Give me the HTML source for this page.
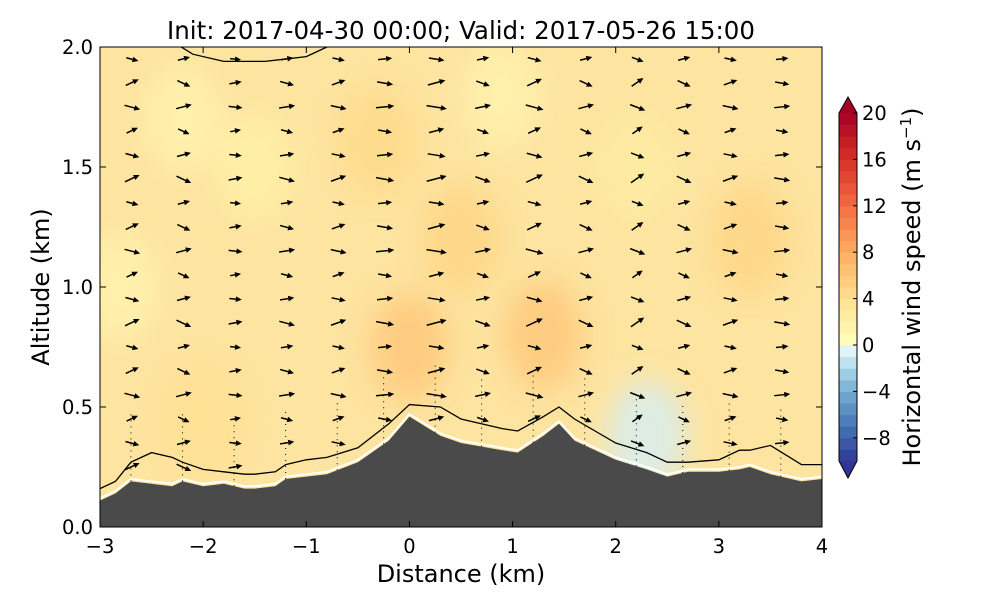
<!DOCTYPE html>
<html><head><meta charset="utf-8"><style>
body{margin:0;background:#fff;}
svg text{font-family:"DejaVu Sans","Liberation Sans",sans-serif;fill:#000;}
</style></head><body>
<svg id="chart" width="1000" height="600" xmlns="http://www.w3.org/2000/svg">
<defs>
<clipPath id="plotclip"><rect x="100" y="47" width="722" height="480"/></clipPath>
<filter id="blur" x="-50%" y="-50%" width="200%" height="200%"><feGaussianBlur stdDeviation="14"/></filter>
</defs>
<text x="461" y="39" font-size="24.5" text-anchor="middle">Init: 2017-04-30 00:00; Valid: 2017-05-26 15:00</text>
<g id="plot" clip-path="url(#plotclip)">
<rect x="100" y="47" width="722" height="480" fill="#fde4a0"/>
<g id="field" filter="url(#blur)"></g>
<g id="arrows"></g>
<path id="contour" fill="none" stroke="#000" stroke-width="1.3"/>
<path id="contourTop" fill="none" stroke="#000" stroke-width="1.3"/>
<path id="whiteline" fill="none" stroke="#fff" stroke-width="2"/>
<path id="terrain" fill="#4a4a4a"/>
</g>
<rect x="100" y="47" width="722" height="480" fill="none" stroke="#000" stroke-width="1"/>
<g id="xticks"></g><g id="yticks"></g>
<text x="461" y="582" font-size="24" text-anchor="middle">Distance (km)</text>
<text transform="translate(49,287) rotate(-90)" font-size="24" text-anchor="middle">Altitude (km)</text>
<g id="colorbar"></g>
<text transform="translate(920,287) rotate(-90)" font-size="24" text-anchor="middle">Horizontal wind speed (m s<tspan font-size="15" dy="-9">−1</tspan><tspan dy="9">)</tspan></text>
</svg>
<script>
const xTicks=[-3,-2,-1,0,1,2,3,4];
const yTicks=[0.0,0.5,1.0,1.5,2.0];
const cbTicks=[20,16,12,8,4,0,-4,-8];
const terrainX=[-3,-2.85,-2.7,-2.5,-2.3,-2.2,-2.0,-1.8,-1.6,-1.5,-1.3,-1.2,-1.0,-0.8,-0.5,-0.2,0.0,0.3,0.5,0.9,1.05,1.3,1.45,1.6,2.0,2.3,2.5,2.7,3.0,3.2,3.3,3.5,3.8,4.0];
const terrainZ=[0.11,0.14,0.19,0.18,0.17,0.19,0.17,0.18,0.16,0.16,0.17,0.20,0.21,0.22,0.27,0.36,0.46,0.38,0.35,0.32,0.31,0.38,0.43,0.36,0.28,0.24,0.21,0.23,0.23,0.24,0.25,0.22,0.19,0.20];
const contourZ=[0.16,0.19,0.27,0.31,0.29,0.27,0.24,0.23,0.22,0.22,0.23,0.26,0.28,0.29,0.33,0.43,0.51,0.50,0.45,0.41,0.40,0.46,0.50,0.45,0.35,0.31,0.27,0.27,0.28,0.32,0.32,0.34,0.26,0.26];
const topX=[-2.25,-2.1,-1.8,-1.4,-1.0,-0.85,-0.7];
const topZ=[2.01,1.97,1.94,1.94,1.96,1.99,2.02];
const colX=[-2.7,-2.2,-1.7,-1.2,-0.7,-0.25,0.25,0.7,1.2,1.7,2.2,2.65,3.1,3.6];
const colAngle=[25,-25,10,-15,20,-10,15,-20,25,-25,35,-25,20,-10];
const colSpeed=[3,3,2.5,3,3,3.5,4,3,3.5,3,3,3,3,3];
const fieldX=[-2.2,-1.5,-0.3,0.0,1.3,-2.8,0.9,2.3,2.2,3.3,0.5,-2.0];
const fieldZ=[1.7,1.5,1.6,0.75,0.8,1.0,1.8,0.38,1.5,1.2,1.2,0.45];
const fieldV=[1.5,2,4.5,6,6,1.5,1.5,-0.8,2.5,5,5,4];

const X=d=>100+(d+3)*722/7, Y=z=>527-z*240;
const ns="http://www.w3.org/2000/svg";
function mk(t,a,p){const e=document.createElementNS(ns,t);for(const k in a)e.setAttribute(k,a[k]);(p||document.getElementById('chart')).appendChild(e);return e;}
const stops=[[-10,[49,54,149]],[-7,[69,117,180]],[-4,[116,173,209]],[-2,[171,217,233]],[-0.5,[224,243,248]],[0,[255,255,191]],[4,[254,224,144]],[8,[253,174,97]],[12,[244,109,67]],[16,[215,48,39]],[20,[165,0,38]]];
function cmap(v){for(let i=0;i<stops.length-1;i++){const[a,ca]=stops[i],[b,cb]=stops[i+1];if(v<=b){const t=Math.max(0,(v-a)/(b-a));return 'rgb('+ca.map((c,j)=>Math.round(c+(cb[j]-c)*t)).join(',')+')';}}return 'rgb(165,0,38)';}
const fg=document.getElementById('field');
fieldX.forEach((x,i)=>{const e=mk('ellipse',{cx:X(x),cy:Y(fieldZ[i]),rx:40,ry:55,fill:cmap(fieldV[i]),opacity:0.8},fg);

});
function terrAt(x){for(let i=0;i<terrainX.length-1;i++){if(x<=terrainX[i+1]){const t=(x-terrainX[i])/(terrainX[i+1]-terrainX[i]);return terrainZ[i]+t*(terrainZ[i+1]-terrainZ[i]);}}return terrainZ[terrainZ.length-1];}
const ag=document.getElementById('arrows');
colX.forEach((x,ci)=>{const tz=terrAt(x);for(let k=0;k<19;k++){const z=1.95-k*0.1;const px=X(x),py=Y(z);
 if(z<tz+0.05){continue;}
 const L=colSpeed[ci]*4*(0.8+0.3*((k%3)/2));const a=(colAngle[ci]*((k%2)?1:-0.6))*Math.PI/180;
 const dx=L*Math.cos(a),dy=-L*Math.sin(a);
 const g=mk('g',{},ag);
 
 
 mk('line',{x1:px-dx/2,y1:py-dy/2,x2:px+dx/2,y2:py+dy/2,stroke:'#000','stroke-width':1.5},g);
 const hx=px+dx/2,hy=py+dy/2,ux=dx/L,uy=dy/L;
 mk('polygon',{points:`${hx+ux*3},${hy+uy*3} ${hx-ux*3-uy*2.8},${hy-uy*3+ux*2.8} ${hx-ux*3+uy*2.8},${hy-uy*3-ux*2.8}`,fill:'#000'},g);}
 const dl=mk('line',{x1:X(x),y1:Y(tz),x2:X(x),y2:Y(tz+0.3),stroke:'#000','stroke-width':1,'stroke-dasharray':'1,5'},ag);
 
 
});
const pts=(xs,zs)=>xs.map((x,i)=>X(x).toFixed(1)+','+Y(zs[i]).toFixed(1)).join(' L');
const tp=document.getElementById('terrain');
tp.setAttribute('d','M'+pts(terrainX,terrainZ)+' L822,527 L100,527 Z');


document.getElementById('whiteline').setAttribute('d','M'+pts(terrainX,terrainZ.map(z=>z+0.01)));
const cp=document.getElementById('contour');
cp.setAttribute('d','M'+pts(terrainX,contourZ));


document.getElementById('contourTop').setAttribute('d','M'+pts(topX,topZ));
const xt=document.getElementById('xticks');
xTicks.forEach(v=>{mk('line',{x1:X(v),y1:527,x2:X(v),y2:521,stroke:'#000'},xt);mk('line',{x1:X(v),y1:47,x2:X(v),y2:53,stroke:'#000'},xt);
 const t=mk('text',{x:X(v),y:553,'font-size':19.5,'text-anchor':'middle'},xt);t.textContent=v<0?'−'+(-v):v;
 
 });
const yt=document.getElementById('yticks');
yTicks.forEach(v=>{mk('line',{x1:100,y1:Y(v),x2:106,y2:Y(v),stroke:'#000'},yt);mk('line',{x1:822,y1:Y(v),x2:816,y2:Y(v),stroke:'#000'},yt);
 const t=mk('text',{x:93,y:Y(v)+7,'font-size':19.5,'text-anchor':'end'},yt);t.textContent=v.toFixed(1);
 
 });
const cb=document.getElementById('colorbar');const C=v=>461-(v+10)*348/30;
for(let v=-10;v<20;v++){mk('rect',{x:839,y:C(v+1),width:18,height:C(v)-C(v+1)+0.5,fill:cmap(v+0.5)},cb);}
mk('polygon',{points:`839,${C(20)} 857,${C(20)} 848,97`,fill:cmap(20)},cb);
mk('polygon',{points:`839,${C(-10)} 857,${C(-10)} 848,478`,fill:cmap(-10)},cb);
mk('polygon',{points:`839,${C(20)} 848,97 857,${C(20)} 857,${C(-10)} 848,478 839,${C(-10)}`,fill:'none',stroke:'#000','stroke-width':1},cb);
cbTicks.forEach(v=>{mk('line',{x1:853,y1:C(v),x2:857,y2:C(v),stroke:'#000'},cb);
 const t=mk('text',{x:862,y:C(v)+7,'font-size':19.5},cb);t.textContent=v<0?'−'+(-v):v;
 
 });
</script>
</body></html>
